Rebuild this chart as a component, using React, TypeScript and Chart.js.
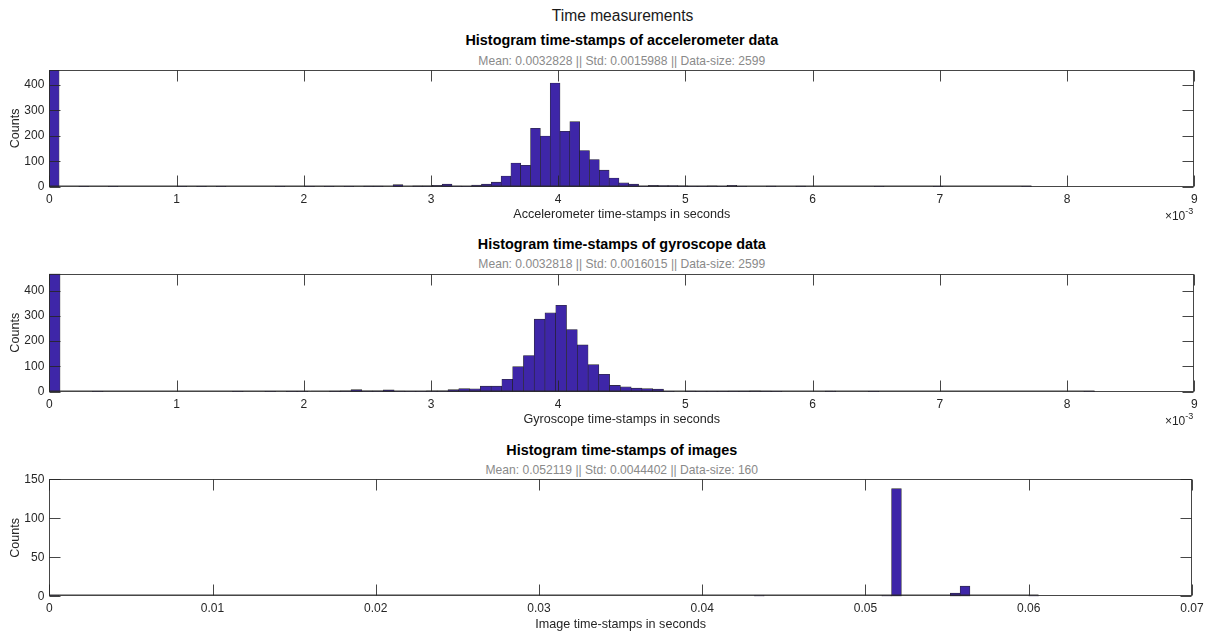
import React, { useEffect, useRef } from "react";
import { Chart, registerables } from "chart.js";

Chart.register(...registerables);

const FONT = '"Liberation Sans", Arial, Helvetica, sans-serif';
const AXIS_COLOR = "#262626";
const SUB_COLOR = "#8a8a8a";
const BAR_FILL = "rgb(62,38,168)";
const BAR_EDGE = "rgba(20,20,20,0.9)";

const figureTitle = "Time measurements";
const yLabel = "Counts";

// ---------- Accelerometer (x in units of 10^-3 s) ----------
const accTitle = "Histogram time-stamps of accelerometer data";
const accSubtitle = "Mean: 0.0032828 || Std: 0.0015988 || Data-size: 2599";
const accXLabel = "Accelerometer time-stamps in seconds";
const accBinWidth = 0.0772;
const accCounts = [
  459, 0, 0, 1, 0, 0, 1, 0, 0, 0,
  0, 0, 0, 1, 0, 1, 0, 1, 0, 0,
  0, 0, 0, 1, 0, 0, 1, 0, 1, 0,
  1, 0, 2, 2, 0, 8, 0, 3, 3, 5,
  10, 2, 1, 6, 10, 18, 42, 93, 84, 230,
  199, 408, 218, 256, 142, 107, 65, 34, 15, 10,
  2, 5, 4, 4, 3, 2, 2, 3, 1, 5,
  1, 0, 0, 2, 0, 0, 2, 0, 0, 0,
  0, 0, 0, 0, 1, 0, 0, 0, 0, 0,
  1, 0, 0, 0, 0, 0, 0, 0, 0, 1,
];
const accXTicks = [0, 1, 2, 3, 4, 5, 6, 7, 8, 9];
const accXTickLabels = ["0", "1", "2", "3", "4", "5", "6", "7", "8", "9"];
const accYTicks = [0, 100, 200, 300, 400];
const accYMax = 459;

// ---------- Gyroscope (x in units of 10^-3 s) ----------
const gyroTitle = "Histogram time-stamps of gyroscope data";
const gyroSubtitle = "Mean: 0.0032818 || Std: 0.0016015 || Data-size: 2599";
const gyroXLabel = "Gyroscope time-stamps in seconds";
const gyroBinWidth = 0.0847;
const gyroCounts = [
  467, 0, 0, 0, 1, 0, 0, 0, 0, 0,
  0, 0, 0, 0, 0, 0, 0, 1, 0, 0,
  1, 0, 1, 1, 0, 0, 2, 3, 8, 3,
  3, 7, 2, 1, 1, 3, 3, 8, 12, 11,
  22, 22, 49, 99, 143, 287, 312, 342, 246, 185,
  107, 69, 25, 19, 14, 12, 10, 1, 0, 2,
  1, 1, 1, 2, 2, 3, 2, 1, 0, 0,
  0, 0, 2, 0, 0, 0, 1, 0, 0, 0,
  0, 0, 0, 0, 0, 0, 0, 0, 0, 0,
  0, 0, 0, 0, 0, 0, 1,
];
const gyroXTicks = [0, 1, 2, 3, 4, 5, 6, 7, 8, 9];
const gyroXTickLabels = ["0", "1", "2", "3", "4", "5", "6", "7", "8", "9"];
const gyroYTicks = [0, 100, 200, 300, 400];
const gyroYMax = 467;

// ---------- Images (x in s) ----------
const imgTitle = "Histogram time-stamps of images";
const imgSubtitle = "Mean: 0.052119 || Std: 0.0044402 || Data-size: 160";
const imgXLabel = "Image time-stamps in seconds";
const imgBinWidth = 0.0006;
const imgCounts = [
  1, 0, 0, 0, 0, 0, 0, 0, 0, 0,
  0, 0, 0, 0, 0, 0, 0, 0, 0, 0,
  0, 0, 0, 0, 0, 0, 0, 0, 0, 0,
  0, 0, 0, 0, 0, 0, 0, 0, 0, 0,
  0, 0, 0, 0, 0, 0, 0, 0, 0, 0,
  0, 0, 0, 0, 0, 0, 0, 0, 0, 0,
  0, 0, 0, 0, 0, 0, 0, 0, 0, 0,
  0, 0, 1, 0, 0, 0, 0, 0, 0, 0,
  0, 0, 0, 0, 0, 1, 138, 0, 0, 0,
  0, 0, 4, 13, 0, 0, 0, 0, 0, 0,
  1,
];
const imgXTicks = [0, 0.01, 0.02, 0.03, 0.04, 0.05, 0.06, 0.07];
const imgXTickLabels = ["0", "0.01", "0.02", "0.03", "0.04", "0.05", "0.06", "0.07"];
const imgYTicks = [0, 50, 100, 150];
const imgYMax = 150;

// ---------- layout ----------
const W = 1209;
const PLOT_LEFT = 49.3;
const PLOT_RIGHT = 1194.3;
const PLOT_CX = (PLOT_LEFT + PLOT_RIGHT) / 2;
const TITLE_SIZE = 14.4;
const SUB_SIZE = 12.1;
const FIG_TITLE_SIZE = 15.6;
const TICK_SIZE = 12;
const LBL_SIZE = 12.6;
const X_AXIS_H = 40;
const TICK_LEN = 11;
const TOP_GAP = 14;

type PanelSpec = {
  title: string;
  subtitle: string;
  xLabel: string;
  counts: number[];
  binWidth: number;
  xMax: number;
  xTicks: number[];
  xTickLabels: string[];
  yMax: number;
  yTicks: number[];
  exponent: string | null;
  chartTop: number;
  chartH: number;
};

const panels: PanelSpec[] = [
  {
    title: accTitle, subtitle: accSubtitle, xLabel: accXLabel, counts: accCounts,
    binWidth: accBinWidth, xMax: 9, xTicks: accXTicks, xTickLabels: accXTickLabels,
    yMax: accYMax, yTicks: accYTicks, exponent: "-3",
    chartTop: 70, chartH: 116.7,
  },
  {
    title: gyroTitle, subtitle: gyroSubtitle, xLabel: gyroXLabel, counts: gyroCounts,
    binWidth: gyroBinWidth, xMax: 9, xTicks: gyroXTicks, xTickLabels: gyroXTickLabels,
    yMax: gyroYMax, yTicks: gyroYTicks, exponent: "-3",
    chartTop: 273.7, chartH: 118,
  },
  {
    title: imgTitle, subtitle: imgSubtitle, xLabel: imgXLabel, counts: imgCounts,
    binWidth: imgBinWidth, xMax: 0.07, xTicks: imgXTicks, xTickLabels: imgXTickLabels,
    yMax: imgYMax, yTicks: imgYTicks, exponent: null,
    chartTop: 479.3, chartH: 117,
  },
];

const matlabAxes = {
  id: "matlabAxes",
  afterDatasetsDraw(chart: any, _args: any, opts: any) {
    const { ctx, chartArea } = chart;
    const { left, right, top, bottom } = chartArea;
    const x = chart.scales.x;
    const y = chart.scales.y;
    ctx.save();
    // baseline under the binned range (flat zero-count patches)
    const nb = opts.nBins as number;
    const bw = opts.binWidth as number;
    ctx.strokeStyle = "rgba(40,40,40,0.45)";
    ctx.lineWidth = 1;
    ctx.beginPath();
    ctx.moveTo(x.getPixelForValue(0), Math.round(bottom) - 1.5);
    ctx.lineTo(x.getPixelForValue(nb * bw), Math.round(bottom) - 1.5);
    ctx.stroke();

    ctx.strokeStyle = "rgba(38,38,38,0.85)";
    ctx.lineWidth = 1;
    const L = Math.round(left) + 0.5;
    const R = Math.round(right) - 0.5;
    const T = Math.round(top) + 0.5;
    const B = Math.round(bottom) - 0.5;
    ctx.strokeRect(L, T, R - L, B - T);
    ctx.beginPath();
    x.ticks.forEach((t: any) => {
      const px = Math.round(x.getPixelForValue(t.value)) + 0.5;
      ctx.moveTo(px, B);
      ctx.lineTo(px, B - TICK_LEN);
      ctx.moveTo(px, T);
      ctx.lineTo(px, T + TICK_LEN);
    });
    y.ticks.forEach((t: any) => {
      const py = Math.round(y.getPixelForValue(t.value)) + 0.5;
      ctx.moveTo(L, py);
      ctx.lineTo(L + TICK_LEN, py);
      ctx.moveTo(R, py);
      ctx.lineTo(R - TICK_LEN, py);
    });
    ctx.stroke();

    if (opts.exponent) {
      ctx.fillStyle = AXIS_COLOR;
      ctx.textBaseline = "middle";
      ctx.textAlign = "right";
      ctx.font = `9px ${FONT}`;
      const ex = right - 1;
      ctx.fillText(opts.exponent, ex, bottom + 25);
      const ew = ctx.measureText(opts.exponent).width;
      ctx.font = `12px ${FONT}`;
      ctx.fillText("\u00d710", ex - ew, bottom + 30);
    }
    ctx.restore();
  },
};

function canvasTop(p: PanelSpec) {
  return Math.floor(p.chartTop - TOP_GAP);
}

function canvasHeight(p: PanelSpec) {
  return Math.ceil(p.chartTop - canvasTop(p) + p.chartH + X_AXIS_H);
}

function buildConfig(p: PanelSpec): any {
  const h = canvasHeight(p);
  const padTop = p.chartTop - canvasTop(p);
  const padBottom = h - (padTop + p.chartH + X_AXIS_H);
  const tickFont = { family: FONT, size: TICK_SIZE, lineHeight: 1.2 };
  const lblFont = { family: FONT, size: LBL_SIZE, lineHeight: 1.2 };
  const lblHalf = (LBL_SIZE * 1.2) / 2;
  return {
    type: "bar",
    data: {
      datasets: [
        {
          data: p.counts.map((c, i) => ({ x: (i + 0.5) * p.binWidth, y: c })),
          backgroundColor: BAR_FILL,
          borderColor: BAR_EDGE,
          borderWidth: 0.6,
          borderSkipped: false,
          barPercentage: 1,
          categoryPercentage: 1,
        },
      ],
    },
    options: {
      animation: false,
      responsive: false,
      devicePixelRatio: 1,
      events: [],
      layout: {
        padding: { left: 0, right: W - PLOT_RIGHT, top: padTop, bottom: padBottom },
      },
      plugins: {
        legend: { display: false },
        tooltip: { enabled: false },
        title: { display: false },
        subtitle: { display: false },
        matlabAxes: { exponent: p.exponent, nBins: p.counts.length, binWidth: p.binWidth },
      },
      scales: {
        x: {
          type: "linear",
          min: 0,
          max: p.xMax,
          offset: false,
          grid: { display: false, drawTicks: false },
          border: { display: false },
          afterBuildTicks: (s: any) => {
            s.ticks = p.xTicks.map((v) => ({ value: v }));
          },
          ticks: {
            color: AXIS_COLOR,
            font: tickFont,
            padding: 5.4,
            autoSkip: false,
            maxRotation: 0,
            minRotation: 0,
            callback: (_v: any, i: number) => p.xTickLabels[i],
          },
          title: {
            display: true,
            text: p.xLabel,
            color: AXIS_COLOR,
            font: lblFont,
            padding: { top: 0, bottom: X_AXIS_H - lblHalf - 28.3 },
          },
          afterFit: (s: any) => {
            s.height = X_AXIS_H;
          },
        },
        y: {
          type: "linear",
          min: 0,
          max: p.yMax,
          grid: { display: false, drawTicks: false },
          border: { display: false },
          afterBuildTicks: (s: any) => {
            s.ticks = p.yTicks.map((v) => ({ value: v }));
          },
          ticks: {
            color: AXIS_COLOR,
            font: tickFont,
            padding: 5,
            autoSkip: false,
            callback: (v: any) => String(v),
          },
          title: {
            display: true,
            text: yLabel,
            color: AXIS_COLOR,
            font: lblFont,
            padding: { top: 15.3 - lblHalf, bottom: 0 },
          },
          afterFit: (s: any) => {
            s.width = PLOT_LEFT;
          },
        },
      },
    },
    plugins: [matlabAxes],
  };
}

function TextLine({
  text, cx, cy, size, bold, color,
}: { text: string; cx: number; cy: number; size: number; bold?: boolean; color: string }) {
  const lh = Math.round(size * 1.2);
  return (
    <div
      style={{
        position: "absolute",
        left: cx,
        top: cy - lh / 2,
        transform: "translateX(-50%)",
        whiteSpace: "nowrap",
        fontFamily: FONT,
        fontSize: size,
        fontWeight: bold ? 700 : 400,
        lineHeight: `${lh}px`,
        color,
      }}
    >
      {text}
    </div>
  );
}

function HistPanel({ p }: { p: PanelSpec }) {
  const ref = useRef<HTMLCanvasElement | null>(null);
  const h = canvasHeight(p);
  const top = canvasTop(p);
  useEffect(() => {
    if (!ref.current) return;
    const chart = new Chart(ref.current, buildConfig(p));
    return () => chart.destroy();
  }, [p]);
  return (
    <>
      <TextLine text={p.title} cx={PLOT_CX} cy={p.chartTop - 29.3} size={TITLE_SIZE} bold color="#000" />
      <TextLine text={p.subtitle} cx={PLOT_CX} cy={p.chartTop - 9} size={SUB_SIZE} color={SUB_COLOR} />
      <canvas
        ref={ref}
        width={W}
        height={h}
        style={{ position: "absolute", left: 0, top, width: W, height: h }}
      />
    </>
  );
}

export default function App() {
  return (
    <div
      style={{
        position: "absolute",
        left: 0,
        top: 0,
        width: W,
        height: 634,
        overflow: "hidden",
        background: "#fff",
      }}
    >
      <TextLine text={figureTitle} cx={622.5} cy={15} size={FIG_TITLE_SIZE} color="#1a1a1a" />
      {panels.map((p, i) => (
        <HistPanel key={i} p={p} />
      ))}
    </div>
  );
}
